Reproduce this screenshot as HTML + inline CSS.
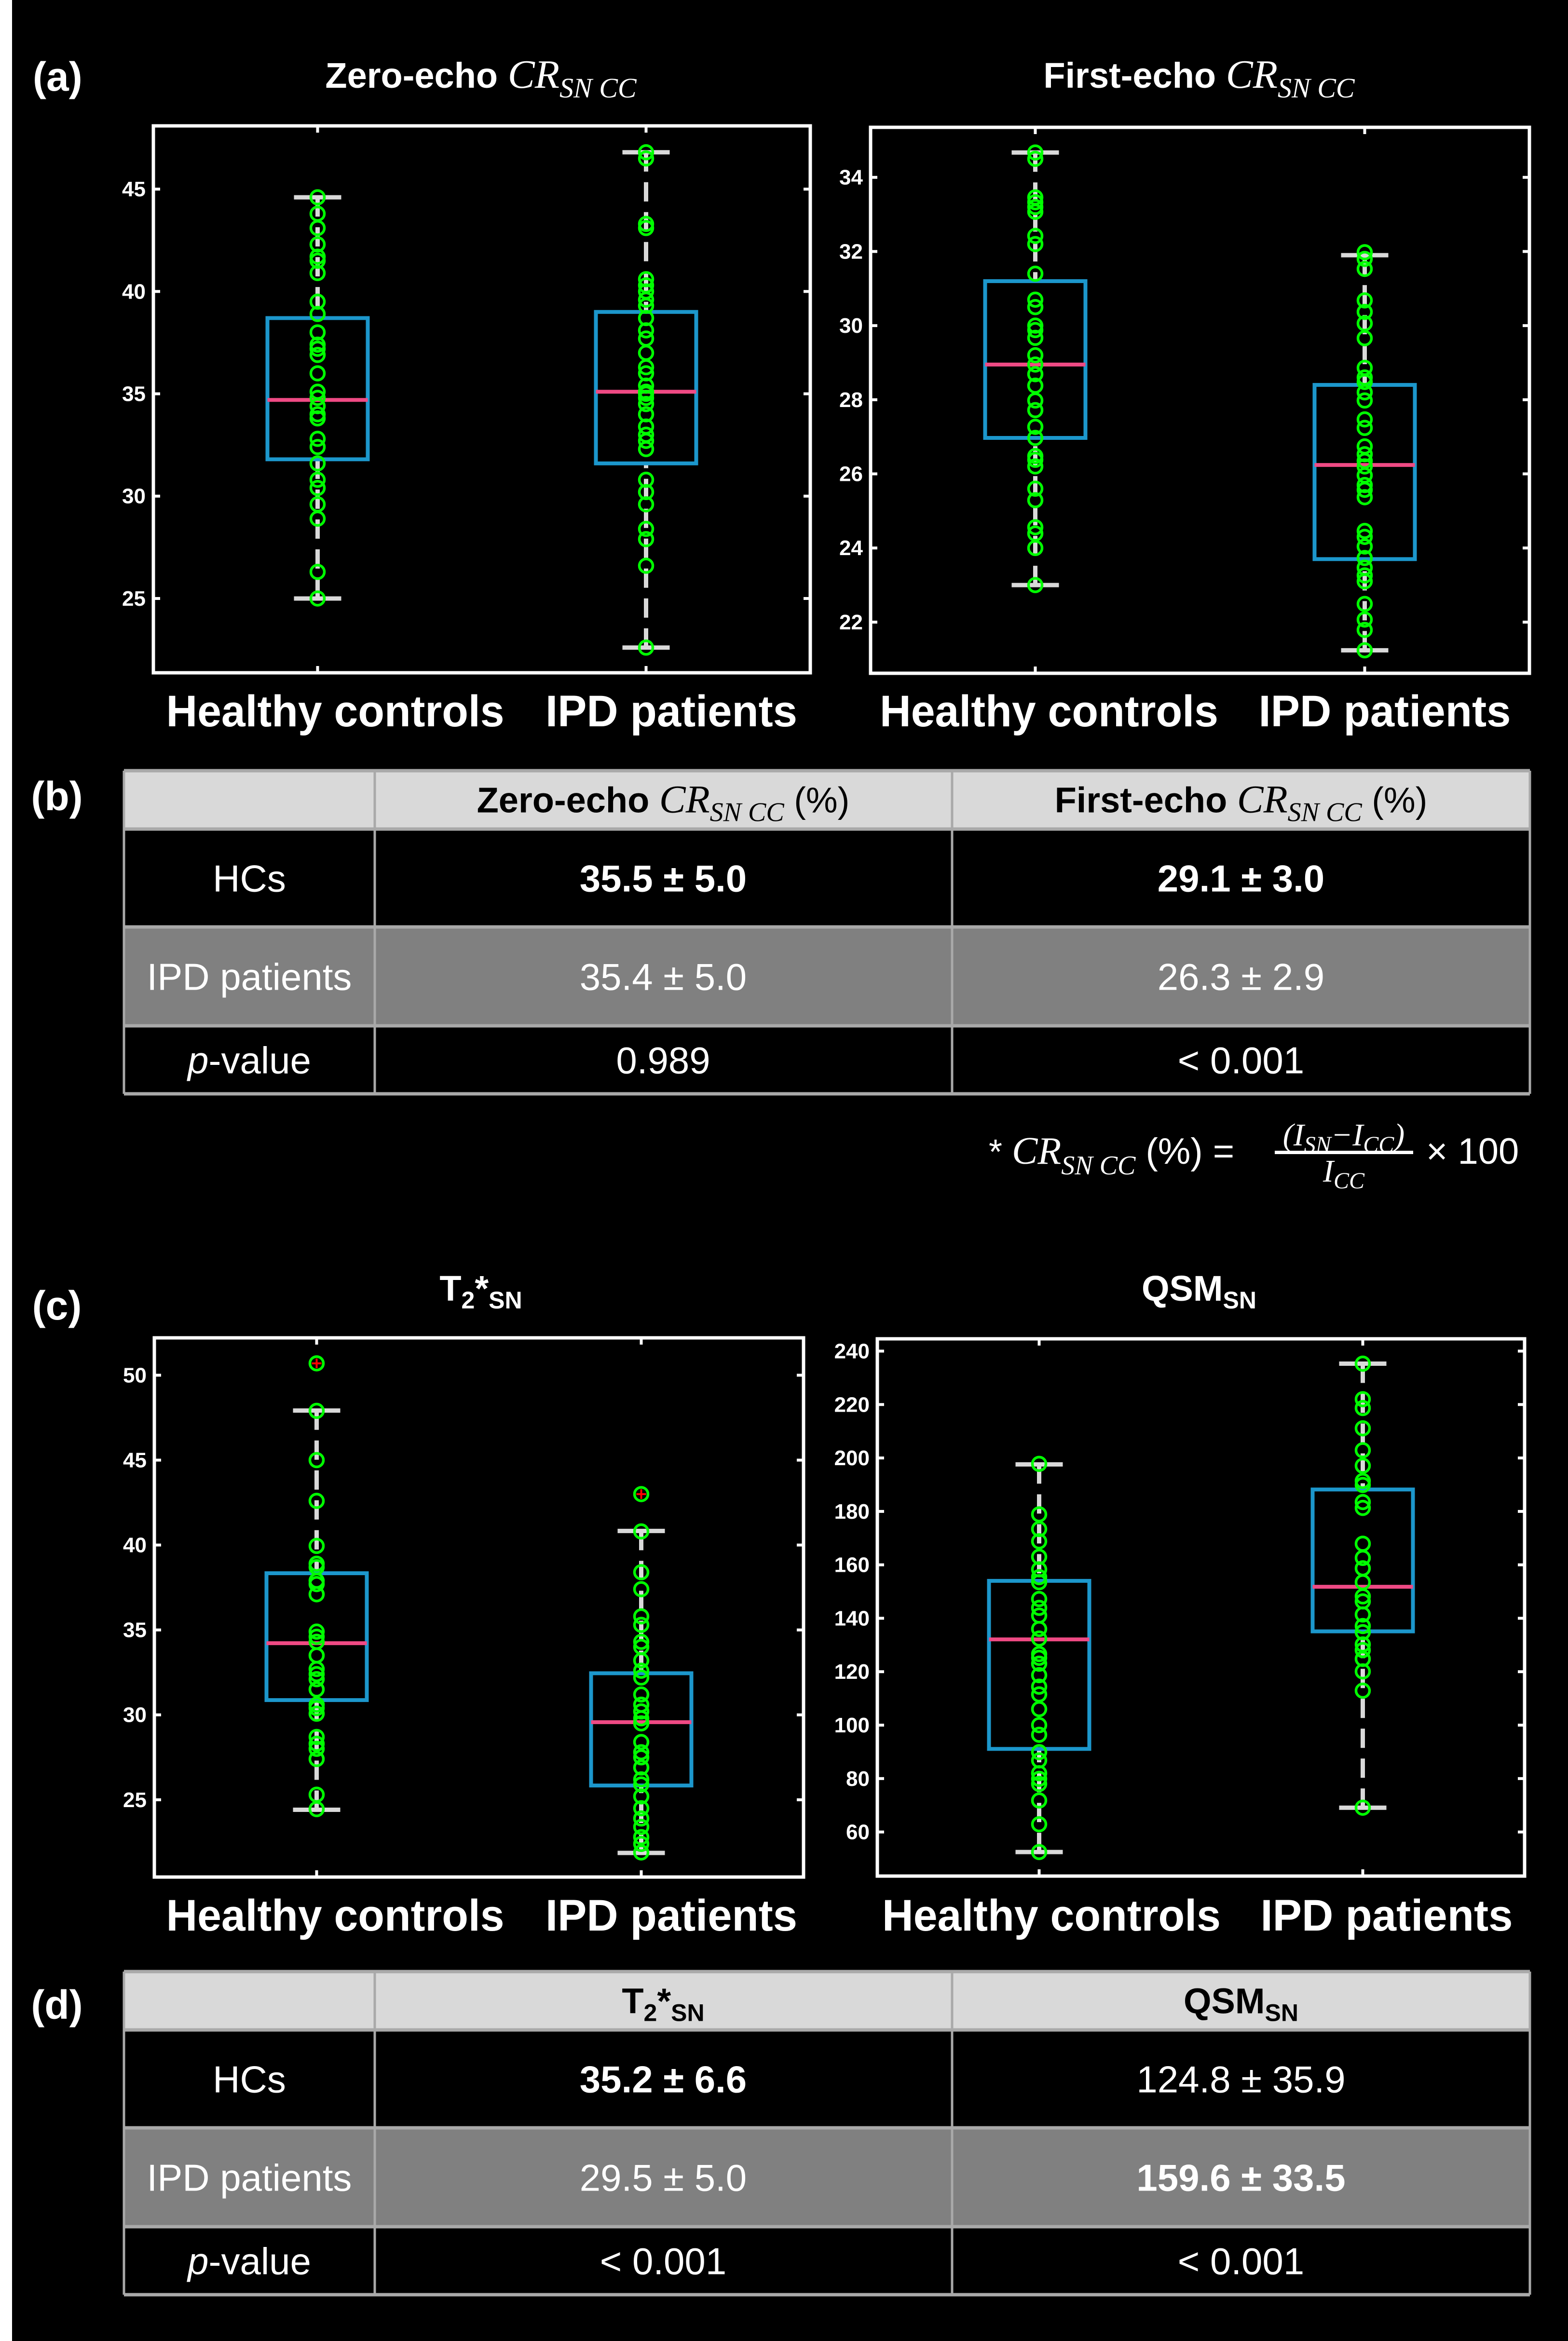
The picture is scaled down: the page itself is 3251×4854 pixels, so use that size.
<!DOCTYPE html>
<html><head><meta charset="utf-8">
<style>
html,body{margin:0;padding:0;background:#000;}
svg{display:block;}
text{font-family:"Liberation Sans",sans-serif;}
.m{font-family:"Liberation Serif",serif;font-style:italic;}
</style></head>
<body>
<svg id="fig" xmlns="http://www.w3.org/2000/svg" width="3251" height="4854" viewBox="0 0 3251 4854">
<rect x="0" y="0" width="3251" height="4854" fill="#000"/>
<rect x="0" y="0" width="25" height="4854" fill="#fff"/>

<text x="68" y="188" font-size="84" font-weight="bold" fill="#fff">(a)</text>
<text x="118" y="1680" font-size="84" font-weight="bold" fill="#fff" text-anchor="middle">(b)</text>
<text x="118" y="2736" font-size="84" font-weight="bold" fill="#fff" text-anchor="middle">(c)</text>
<text x="118" y="4186" font-size="84" font-weight="bold" fill="#fff" text-anchor="middle">(d)</text>

<text x="997" y="182" font-size="74" font-weight="bold" fill="#fff" text-anchor="middle">Zero-echo <tspan class="m" font-weight="normal" font-size="84">CR</tspan><tspan class="m" font-weight="normal" font-size="58" dy="20">SN CC</tspan></text>
<text x="2486" y="182" font-size="74" font-weight="bold" fill="#fff" text-anchor="middle">First-echo <tspan class="m" font-weight="normal" font-size="84">CR</tspan><tspan class="m" font-weight="normal" font-size="58" dy="20">SN CC</tspan></text>
<text x="997" y="2697" font-size="74" font-weight="bold" fill="#fff" text-anchor="middle">T<tspan font-size="50" dy="16">2</tspan><tspan dy="-16">*</tspan><tspan font-size="50" dy="16">SN</tspan></text>
<text x="2486" y="2697" font-size="74" font-weight="bold" fill="#fff" text-anchor="middle">QSM<tspan font-size="50" dy="16">SN</tspan></text>

<g id="charts"></g>
<g id="tables"></g>

<g fill="#fff">
<text x="2050" y="2413" font-size="72">* <tspan class="m" font-size="80">CR</tspan><tspan class="m" font-size="56" dy="22">SN CC</tspan><tspan dy="-22" font-size="76"> (%) = </tspan></text>
<text x="2786" y="2375" font-size="66" text-anchor="middle" class="m">(I<tspan font-size="48" dy="14">SN</tspan><tspan dy="-14">−I</tspan><tspan font-size="48" dy="14">CC</tspan><tspan dy="-14">)</tspan></text>
<rect x="2643" y="2386" width="287" height="7" fill="#fff"/>
<text x="2786" y="2450" font-size="66" text-anchor="middle" class="m">I<tspan font-size="48" dy="14">CC</tspan></text>
<text x="2957" y="2413" font-size="76">× 100</text>
</g>
</svg>
<script>
// ---------- DATA ----------
const categories = ["Healthy controls", "IPD patients"];

const zeroEchoHC = [44.6,43.8,43.1,42.3,41.7,41.5,40.9,39.5,38.9,38.0,37.4,37.2,36.9,36.0,35.1,34.8,34.4,34.0,33.8,32.8,32.4,31.6,30.8,30.4,29.6,28.9,26.3,25.0];
const zeroEchoIPD = [46.8,46.5,43.3,43.1,40.6,40.3,40.0,39.6,39.3,38.7,38.1,37.7,37.0,36.3,36.0,35.4,35.1,35.0,34.8,34.5,34.0,33.4,33.0,32.7,32.3,30.8,30.2,29.6,28.4,27.9,26.6,22.6];
const zeroEchoStatsHC = [25.0,31.8,34.7,38.7,44.6];
const zeroEchoStatsIPD = [22.6,31.6,35.1,39.0,46.8];
const zeroEchoTicks = [25,30,35,40,45];

const firstEchoHC = [34.67,34.5,33.46,33.33,33.2,33.07,32.42,32.2,31.4,30.7,30.5,30.0,29.88,29.67,29.2,28.95,28.69,28.38,27.98,27.72,27.27,26.97,26.48,26.38,26.2,25.6,25.29,24.56,24.39,24.0,23.0];
const firstEchoIPD = [31.98,31.8,31.53,30.68,30.37,30.06,29.66,28.86,28.6,28.48,28.2,27.98,27.47,27.24,26.74,26.53,26.35,26.2,25.96,25.7,25.57,25.37,24.46,24.3,24.04,23.73,23.47,23.26,23.1,22.49,22.07,21.79,21.24];
const firstEchoStatsHC = [23.0,26.97,28.95,31.2,34.67];
const firstEchoStatsIPD = [21.24,23.7,26.24,28.4,31.9];
const firstEchoTicks = [22,24,26,28,30,32,34];

const t2HC = [50.7,47.9,45.0,42.6,39.95,38.9,38.7,37.9,37.7,37.1,34.9,34.6,34.3,33.5,32.7,32.4,32.1,31.5,30.6,30.4,30.07,28.7,28.3,28.0,27.4,25.3,24.45];
const t2IPD = [43.0,40.8,38.4,37.4,35.8,35.3,34.3,34.0,33.2,32.6,32.2,31.2,30.6,30.2,29.8,29.5,28.4,27.8,27.5,26.9,26.2,25.9,25.2,24.5,23.9,23.4,22.8,22.4,21.9];
const t2StatsHC = [24.41,30.87,34.22,38.34,47.92];
const t2StatsIPD = [21.87,25.84,29.57,32.45,40.83];
const t2OutliersHC = [50.7];
const t2OutliersIPD = [43.0];
const t2Ticks = [25,30,35,40,45,50];

const qsmHC = [197.8,178.9,173.4,168.8,163.0,158.3,155.4,153.5,147.2,143.9,141.0,136.0,132.4,126.6,125.2,123.0,118.7,114.4,111.5,106.0,100.0,96.4,89.9,86.8,82.0,79.9,78.0,71.8,62.9,52.5];
const qsmIPD = [235.3,222.0,218.7,211.1,202.9,197.1,191.4,189.9,183.5,181.3,167.9,162.6,158.7,153.5,148.2,146.3,141.4,137.1,134.8,130.2,128.1,124.8,120.1,112.9,69.1];
const qsmStatsHC = [52.5,91.1,132.1,154.0,197.6];
const qsmStatsIPD = [69.1,135.1,151.8,188.2,235.3];
const qsmTicks = [60,80,100,120,140,160,180,200,220,240];

const tableBHeader = ["", "Zero-echo", "First-echo"];
const tableBRows = [["HCs","35.5 ± 5.0","29.1 ± 3.0"],["IPD patients","35.4 ± 5.0","26.3 ± 2.9"],["p-value","0.989","< 0.001"]];
const tableDRows = [["HCs","35.2 ± 6.6","124.8 ± 35.9"],["IPD patients","29.5 ± 5.0","159.6 ± 33.5"],["p-value","< 0.001","< 0.001"]];

// ---------- DRAW ----------
const NS = "http://www.w3.org/2000/svg";
function mk(tag, attrs, parent){
  const e = document.createElementNS(NS, tag);
  for (const k in attrs) e.setAttribute(k, attrs[k]);
  parent.appendChild(e); return e;
}
const charts = document.getElementById('charts');

function drawPanel(name, L, series, stats, outliers, ticks){
  const g = mk('g', {}, charts);
  
  
  const y = v => L.y1 - (v - L.ymin) / (L.ymax - L.ymin) * (L.y1 - L.y0);
  const x = i => L.x0 + (i + 1 - 0.5) / 2 * (L.x1 - L.x0);
  ticks.forEach(t => {
    const yy = y(t);
    const l1 = mk('line', {x1:L.x0, x2:L.x0+14, y1:yy, y2:yy, stroke:'#fff', 'stroke-width':6}, g);
    
    
    const l2 = mk('line', {x1:L.x1, x2:L.x1-14, y1:yy, y2:yy, stroke:'#fff', 'stroke-width':6}, g);
    
    
    const tx = mk('text', {x:L.x0-16, y:yy+15, 'text-anchor':'end', 'font-size':44, 'font-weight':'bold', fill:'#fff'}, g);
    
    
    tx.textContent = t;
  });
  categories.forEach((c, i) => {
    const xx = x(i);
    const t1 = mk('line', {x1:xx, x2:xx, y1:L.y0, y2:L.y0+14, stroke:'#fff', 'stroke-width':6}, g);
    
    
    const t2 = mk('line', {x1:xx, x2:xx, y1:L.y1, y2:L.y1-14, stroke:'#fff', 'stroke-width':6}, g);
    
    
    const lab = mk('text', {x:L.labX[i], y:L.labY, 'text-anchor':'middle', 'font-size':92, 'font-weight':'bold', fill:'#fff', textLength:L.labW[i], lengthAdjust:'spacingAndGlyphs'}, g);
    
    
    lab.textContent = c;
    const s = stats[i];
    const hw = 104, cw = 49;
    const wl = mk('line', {x1:xx, x2:xx, y1:y(s[0]), y2:y(s[1]), stroke:'#d9d9d9', 'stroke-width':9, 'stroke-dasharray':'40 22'}, g);
    
    
    const wu = mk('line', {x1:xx, x2:xx, y1:y(s[4]), y2:y(s[3]), stroke:'#d9d9d9', 'stroke-width':9, 'stroke-dasharray':'40 22'}, g);
    
    
    [s[0], s[4]].forEach(v => {
      const cap = mk('line', {x1:xx-cw, x2:xx+cw, y1:y(v), y2:y(v), stroke:'#d9d9d9', 'stroke-width':9}, g);
      
      
    });
    const box = mk('rect', {x:xx-hw, y:y(s[3]), width:2*hw, height:y(s[1])-y(s[3]), fill:'none', stroke:'#1c97cc', 'stroke-width':8}, g);
    
    
    const med = mk('line', {x1:xx-hw, x2:xx+hw, y1:y(s[2]), y2:y(s[2]), stroke:'#ef4a84', 'stroke-width':8}, g);
    
    
    (outliers[i] || []).forEach(v => {
      const o = mk('path', {d:`M${xx-10},${y(v)}h20M${xx},${y(v)-10}v20`, stroke:'#ff0000', 'stroke-width':4}, g);
      
      
    });
    series[i].forEach(v => {
      const p = mk('circle', {cx:xx, cy:y(v), r:14, fill:'none', stroke:'#00ff00', 'stroke-width':5.5}, g);
      
      
    });
  });
  const frame = mk('rect', {x:L.x0, y:L.y0, width:L.x1-L.x0, height:L.y1-L.y0, fill:'none', stroke:'#fff', 'stroke-width':7}, g);
  
  
}

const labL = {labX:[695,1392], labW:[701,522]};
const labR = {labX:[2175,2871], labW:[702,523]};
drawPanel('zero-echo', Object.assign({x0:318,x1:1680,y0:261,y1:1395,ymin:21.37,ymax:48.09,labY:1506}, labL), [zeroEchoHC, zeroEchoIPD], [zeroEchoStatsHC, zeroEchoStatsIPD], [[],[]], zeroEchoTicks);
drawPanel('first-echo', Object.assign({x0:1805,x1:3171,y0:264,y1:1396,ymin:20.62,ymax:35.35,labY:1506}, labR), [firstEchoHC, firstEchoIPD], [firstEchoStatsHC, firstEchoStatsIPD], [[],[]], firstEchoTicks);
drawPanel('t2star', Object.assign({x0:320,x1:1666,y0:2774,y1:3892,ymin:20.45,ymax:52.2,labY:4003}, labL), [t2HC, t2IPD], [t2StatsHC, t2StatsIPD], [t2OutliersHC, t2OutliersIPD], t2Ticks);
drawPanel('qsm', Object.assign({x0:1819,x1:3161,y0:2776,y1:3890,ymin:43.5,ymax:244.6,labY:4003}, {labX:[2180,2875], labW:[702,523]}), [qsmHC, qsmIPD], [qsmStatsHC, qsmStatsIPD], [[],[]], qsmTicks);

// ---------- TABLES ----------
const tables = document.getElementById('tables');
function drawTable(name, top, headerHTML, rows, bold){
  const g = mk('g', {}, tables);
  
  
  const cols = [257, 777, 1974, 3172];
  const rb = [top, top+121, top+324, top+529, top+670];
  const fills = ['#d9d9d9', '#000', '#808080', '#000'];
  for (let r = 0; r < 4; r++) {
    const bg = mk('rect', {x:cols[0], y:rb[r], width:cols[3]-cols[0], height:rb[r+1]-rb[r], fill:fills[r]}, g);
    
    
  }
  for (let r = 0; r < 5; r++) {
    const l = mk('line', {x1:cols[0], x2:cols[3], y1:rb[r], y2:rb[r], stroke:'#a9a9a9', 'stroke-width':7}, g);
    
    
  }
  cols.forEach(c => {
    const l = mk('line', {x1:c, x2:c, y1:rb[0], y2:rb[4], stroke:'#a9a9a9', 'stroke-width':5}, g);
    
    
  });
  const cx = [517, 1375, 2573];
  headerHTML.forEach((h, j) => {
    if (!h) return;
    const t = mk('text', {x:cx[j+1], y:(rb[0]+rb[1])/2+26, 'text-anchor':'middle', 'font-size':74, 'font-weight':'bold', fill:'#000'}, g);
    
    
    t.innerHTML = h;
  });
  rows.forEach((row, r) => {
    row.forEach((val, j) => {
      const t = mk('text', {x:cx[j], y:(rb[r+1]+rb[r+2])/2+28, 'text-anchor':'middle', 'font-size':78, fill:'#fff'}, g);
      if (bold[r][j]) t.setAttribute('font-weight', 'bold');
      
      
      if (val === 'p-value') t.innerHTML = '<tspan font-style="italic">p</tspan>-value';
      else t.textContent = val;
    });
  });
}
drawTable('table-b', 1598,
  [tableBHeader[1] + ' <tspan class="m" font-weight="normal" font-size="82">CR</tspan><tspan class="m" font-weight="normal" font-size="56" dy="18">SN CC</tspan><tspan dy="-18" font-weight="normal">  (%)</tspan>',
   tableBHeader[2] + ' <tspan class="m" font-weight="normal" font-size="82">CR</tspan><tspan class="m" font-weight="normal" font-size="56" dy="18">SN CC</tspan><tspan dy="-18" font-weight="normal">  (%)</tspan>'],
  tableBRows, [[0,1,1],[0,0,0],[0,0,0]]);
drawTable('table-d', 4088,
  ['T<tspan font-size="50" dy="16">2</tspan><tspan dy="-16">*</tspan><tspan font-size="50" dy="16">SN</tspan>',
   'QSM<tspan font-size="50" dy="16">SN</tspan>'],
  tableDRows, [[0,1,0],[0,0,1],[0,0,0]]);
</script>
</body></html>
